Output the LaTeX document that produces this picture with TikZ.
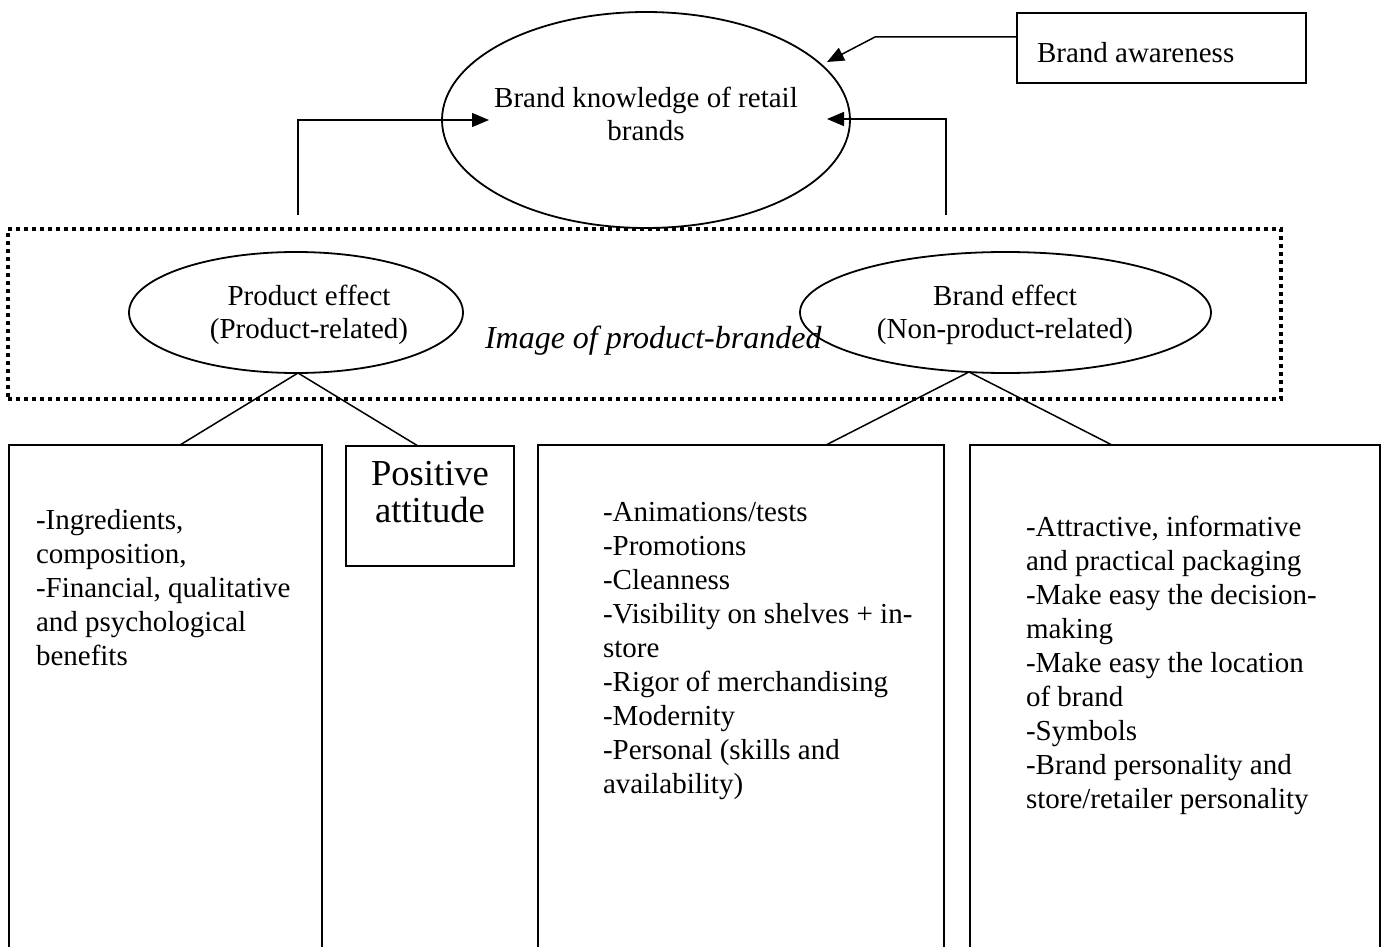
\documentclass[tikz,border=0pt]{standalone}
\usepackage{fontspec}
\setmainfont{Liberation Serif}
\usetikzlibrary{arrows.meta,shapes.geometric}
\begin{document}
\begin{tikzpicture}[x=0.5pt,y=-0.5pt,
  line width=0.75pt,
  every node/.style={inner sep=0pt, outer sep=0pt},
  oval/.style={draw, ellipse, line width=0.9pt},
  txt/.style={font=\fontsize{14.5}{17}\selectfont, align=left, anchor=north west},
  ctxt/.style={font=\fontsize{14.5}{16.5}\selectfont, align=center, anchor=north},
  box/.style={draw, anchor=north west, line width=0.9pt},
  arr/.style={-{Triangle[length=8.5pt,width=7pt]}},
  dotbox/.style={draw, line width=1.6pt, dash pattern=on 2pt off 2pt, anchor=north west}
]
\useasboundingbox (0,0) rectangle (1383,947);
\clip (0,0) rectangle (1383,947);

% dotted frame
\node[dotbox, minimum width=636.5pt, minimum height=85pt] (frame) at (8,229) {};

% top ellipse
\node[oval, minimum width=204pt, minimum height=108pt] (know) at (646,120) {};
\node[ctxt] (knowt) at (646,84) {\strut Brand knowledge of retail\\brands};

% brand awareness
\node[box, minimum width=144.5pt, minimum height=35pt] (aware) at (1017,13) {};
\node[font=\fontsize{14.5}{17}\selectfont, anchor=base west] (awaret) at (1037,63) {Brand awareness};

% effect ellipses
\node[oval, minimum width=167pt, minimum height=60.5pt] (pe) at (296,312.5) {};
\node[ctxt] (pet) at (309,282) {\strut Product effect\\(Product-related)};
\node[oval, minimum width=205.5pt, minimum height=60.5pt] (be) at (1005.5,312.5) {};
\node[ctxt] (bet) at (1005,282) {\strut Brand effect\\(Non-product-related)};

\node[font=\fontsize{16}{19}\selectfont\itshape, anchor=base west] (imgt) at (485,348) {Image of product-branded};

% bottom boxes
\node[box, minimum width=156.5pt, minimum height=260pt] (b1) at (9,445) {};
\node[box, minimum width=84pt, minimum height=60pt] (b2) at (346,446) {};
\node[box, minimum width=203pt, minimum height=260pt] (b3) at (538,445) {};
\node[box, minimum width=205pt, minimum height=260pt] (b4) at (970,445) {};

\node[txt] (t1) at (36,506) {\strut -Ingredients,\\composition,\\-Financial, qualitative\\and psychological\\benefits};
\node[font=\fontsize{18.3}{18.5}\selectfont, align=center, anchor=north] (t2) at (430,460) {\strut Positive\\attitude};
\node[txt] (t3) at (603,498) {\strut -Animations/tests\\-Promotions\\-Cleanness\\-Visibility on shelves + in-\\store\\-Rigor of merchandising\\-Modernity\\-Personal (skills and\\availability)};
\node[txt] (t4) at (1026,513) {\strut -Attractive, informative\\and practical packaging\\-Make easy the decision-\\making\\-Make easy the location\\of brand\\-Symbols\\-Brand personality and\\store/retailer personality};

% connector points
\coordinate (pa) at (298,373);
\coordinate (b1t) at (180,445);
\coordinate (b2t) at (418,446);
\coordinate (ba) at (969,372);
\coordinate (b3t) at (826,445);
\coordinate (b4t) at (1112,445);
\coordinate (ls) at (298,215);
\coordinate (lt) at (489,120);
\coordinate (rs) at (946,215);
\coordinate (rt) at (827,119);
\coordinate (as) at (1017,37);
\coordinate (ab) at (875,37);
\coordinate (at) at (827,62);

\draw (b1t) -- (pa) -- (b2t);
\draw (b3t) -- (ba) -- (b4t);
\draw[arr] (ls) |- (lt);
\draw[arr] (rs) |- (rt);
\draw[arr] (as) -- (ab) -- (at);
\end{tikzpicture}
\end{document}
